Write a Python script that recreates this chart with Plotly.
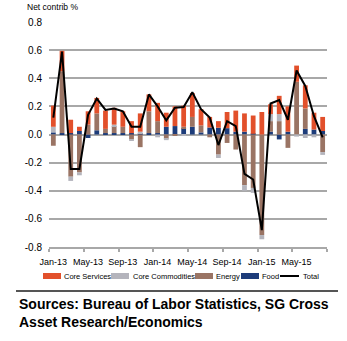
import plotly.graph_objects as go

# Monthly net contributions to headline CPI (percentage points)
months = ["Jan-13", "Feb-13", "Mar-13", "Apr-13", "May-13", "Jun-13", "Jul-13", "Aug-13",
          "Sep-13", "Oct-13", "Nov-13", "Dec-13", "Jan-14", "Feb-14", "Mar-14", "Apr-14",
          "May-14", "Jun-14", "Jul-14", "Aug-14", "Sep-14", "Oct-14", "Nov-14", "Dec-14",
          "Jan-15", "Feb-15", "Mar-15", "Apr-15", "May-15", "Jun-15", "Jul-15", "Aug-15"]

core_services = [0.15, 0.145, 0.095, 0.03, 0.095, 0.11, 0.13, 0.12,
                 0.11, 0.085, 0.13, 0.12, 0.13, 0.10, 0.14, 0.15,
                 0.17, 0.115, 0.075, 0.047, 0.115, 0.15, 0.13, 0.13,
                 0.16, 0.07, 0.13, 0.18, 0.115, 0.165, 0.12, 0.10]
core_commodities = [0.04, 0.0, -0.03, -0.02, 0.0, 0.0, 0.0, 0.01,
                    0.0, -0.01, 0.01, 0.0, -0.02, -0.01, 0.0, -0.01,
                    0.0, 0.0, 0.0, -0.024, 0.0, 0.0, -0.04, -0.035,
                    -0.03, 0.05, 0.05, 0.0, -0.015, -0.025, -0.02, -0.02]
energy = [-0.08, 0.44, -0.30, -0.27, 0.07, 0.12, 0.03, 0.05,
          0.045, -0.035, -0.09, 0.155, 0.085, -0.03, -0.01, 0.01,
          0.07, 0.05, -0.02, -0.143, -0.06, -0.107, -0.36, -0.38,
          -0.715, 0.075, 0.095, -0.095, 0.375, 0.145, 0.0, -0.125]
food = [0.015, 0.01, 0.01, 0.025, -0.025, 0.03, 0.01, 0.01,
        0.01, 0.01, 0.01, 0.01, 0.01, 0.055, 0.06, 0.045,
        0.055, 0.015, 0.05, 0.048, 0.045, 0.02, 0.02, 0.005,
        0.0, 0.02, -0.035, 0.02, 0.0, 0.04, 0.035, 0.025]
total = [0.12, 0.59, -0.245, -0.245, 0.14, 0.255, 0.175, 0.185,
         0.165, 0.055, 0.055, 0.285, 0.2, 0.1, 0.19, 0.195,
         0.30, 0.18, 0.12, -0.075, 0.095, 0.06, -0.28, -0.32,
         -0.68, 0.22, 0.245, 0.105, 0.455, 0.345, 0.13, -0.02]

y_ticks = [-0.8, -0.6, -0.4, -0.2, 0.0, 0.2, 0.4, 0.6, 0.8]
y_tick_text = ["-0.8", "-0.6", "-0.4", "-0.2", "0.0", "0.2", "0.4", "0.6", "0.8"]

colors = {"Core Services": "#e2502b", "Core Commodities": "#b4b4bc",
          "Energy": "#9a7464", "Food": "#1d3c7a", "Total": "#000000"}

FONT = "Liberation Sans, Arial, sans-serif"

W, H = 347, 341
PL, PR, PT, PB = 49, 327, 22, 247


def fx(px):
    return (px - PL) / (PR - PL)


def fy(py):
    return (PB - py) / (PB - PT)


fig = go.Figure()

# stacked from the zero line outward: food, energy, core commodities, core services
for name, vals in [("Food", food), ("Energy", energy),
                   ("Core Commodities", core_commodities), ("Core Services", core_services)]:
    fig.add_trace(go.Bar(x=months, y=vals, name=name, marker_color=colors[name],
                         marker_line_width=0, showlegend=False))

fig.add_trace(go.Scatter(x=months, y=total, name="Total", mode="lines",
                         line=dict(color=colors["Total"], width=2), showlegend=False))

fig.update_layout(
    width=W, height=H,
    margin=dict(l=PL, r=W - PR, t=PT, b=H - PB, pad=0),
    paper_bgcolor="white", plot_bgcolor="white",
    barmode="relative", bargap=0.45,
    font=dict(family=FONT, size=10, color="#000000"),
)

fig.update_yaxes(
    range=[-0.8, 0.8], tickvals=y_ticks, ticktext=y_tick_text,
    showgrid=True, gridcolor="#a8a8a8", gridwidth=1.5,
    zeroline=True, zerolinecolor="#a8a8a8", zerolinewidth=1.5,
    showline=False, ticks="", ticklabelstandoff=6,
    tickfont=dict(family=FONT, size=10, color="#000000"),
)

fig.update_xaxes(
    type="category", range=[-0.5, len(months) - 0.5],
    tickmode="linear", tick0=0, dtick=4, tickson="boundaries", tickangle=0,
    ticks="outside", ticklen=3, tickcolor="#a8a8a8", tickwidth=1.5,
    showline=True, linecolor="#a8a8a8", linewidth=1.5, showgrid=False,
    ticklabelstandoff=5,
    tickfont=dict(family=FONT, size=9, color="#000000"),
)

annotations = [
    dict(text="Net contrib %", x=fx(25), y=fy(7), xanchor="left", yanchor="middle",
         font=dict(family=FONT, size=8.5, color="#000000")),
    dict(text="<b>Sources: Bureau of Labor Statistics, SG Cross</b>", x=fx(17), y=fy(304),
         xanchor="left", yanchor="middle", font=dict(family=FONT, size=14, color="#000000")),
    dict(text="<b>Asset Research/Economics</b>", x=fx(17), y=fy(322),
         xanchor="left", yanchor="middle", font=dict(family=FONT, size=14, color="#000000")),
]

shapes = [
    dict(type="line", xref="paper", yref="paper", x0=fx(16), x1=fx(338), y0=fy(291), y1=fy(291),
         line=dict(color="#555555", width=2)),
]

# legend row
legend_y = 276
legend_items = [("Core Services", 43, 61, 62), ("Core Commodities", 111, 129, 131),
                ("Energy", 195, 213, 214), ("Food", 241, 259, 260), ("Total", 280, 299, 301)]
for name, x0, x1, tx in legend_items:
    if name == "Total":
        shapes.append(dict(type="line", xref="paper", yref="paper", x0=fx(x0), x1=fx(x1),
                           y0=fy(legend_y), y1=fy(legend_y),
                           line=dict(color=colors[name], width=2)))
    else:
        shapes.append(dict(type="rect", xref="paper", yref="paper", x0=fx(x0), x1=fx(x1),
                           y0=fy(legend_y - 3), y1=fy(legend_y + 3),
                           fillcolor=colors[name], line=dict(width=0)))
    annotations.append(dict(text=name, x=fx(tx), y=fy(legend_y), xanchor="left", yanchor="middle",
                            font=dict(family=FONT, size=7.5, color="#000000")))

for a in annotations:
    a.update(xref="paper", yref="paper", showarrow=False)

fig.update_layout(annotations=annotations, shapes=shapes)

fig.write_html("out.html")
